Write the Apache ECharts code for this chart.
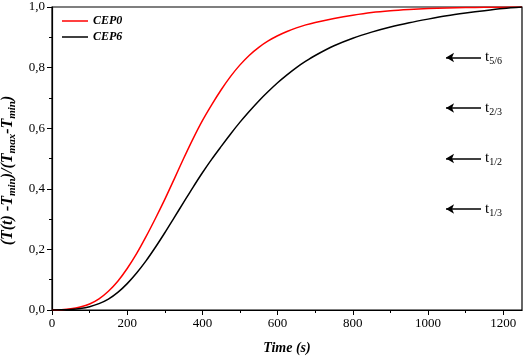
<!DOCTYPE html>
<html>
<head>
<meta charset="utf-8">
<script src="https://cdn.jsdelivr.net/npm/echarts@6/dist/echarts.min.js"></script>
<style>
  html, body { margin: 0; padding: 0; background: #fff; }
  #chart { width: 526px; height: 357px; }
</style>
</head>
<body>
<div id="chart"></div>
<script>
// time axis (s)
const time = [0, 25, 50, 75, 100, 125, 150, 175, 200, 225, 250, 275, 300, 325, 350, 375, 400, 425, 450, 475,
  500, 525, 550, 575, 600, 625, 650, 675, 700, 750, 800, 850, 900, 950, 1000, 1050, 1100, 1150, 1200, 1250];
// normalised temperature
const cep0 = [0, 0.001, 0.004, 0.01, 0.02, 0.037, 0.062, 0.095, 0.137, 0.186, 0.242, 0.302, 0.365, 0.432, 0.5, 0.565, 0.625, 0.678, 0.727, 0.771,
  0.809, 0.841, 0.867, 0.888, 0.905, 0.919, 0.931, 0.941, 0.949, 0.962, 0.973, 0.982, 0.988, 0.992, 0.995, 0.997, 0.998, 0.999, 0.9995, 1.0];
const cep6 = [0, 0.0005, 0.002, 0.005, 0.011, 0.021, 0.036, 0.058, 0.087, 0.122, 0.162, 0.207, 0.255, 0.305, 0.355, 0.405, 0.453, 0.498, 0.54, 0.581,
  0.62, 0.656, 0.69, 0.721, 0.75, 0.776, 0.8, 0.821, 0.84, 0.872, 0.897, 0.917, 0.934, 0.948, 0.96, 0.971, 0.98, 0.988, 0.995, 1.0];
const seriesNames = ["CEP0", "CEP6"];
const xTicks = [0, 200, 400, 600, 800, 1000, 1200];
const xMinorTicks = [100, 300, 500, 700, 900, 1100];
// t fractions marked with arrows
const arrowLevels = [5 / 6, 2 / 3, 1 / 2, 1 / 3];
const arrowSubs = ["5/6", "2/3", "1/2", "1/3"];
const arrowFrom = 1141;
const arrowTo = 1048;

const serif = "'Liberation Serif', 'Times New Roman', serif";
const myChart = echarts.init(document.getElementById("chart"));

let arrows = [];
for (let i = 0; i < arrowLevels.length; i++) {
  arrows.push([
    {
      coord: [arrowFrom, arrowLevels[i]],
      label: { formatter: "{t|t}{s|" + arrowSubs[i] + "}" },
    },
    { coord: [arrowTo, arrowLevels[i]] },
  ]);
}

myChart.setOption({
  animation: false,
  textStyle: { fontFamily: serif },
  grid: {
    left: 52,
    right: 4,
    top: 7,
    bottom: 47,
    containLabel: false,
    outerBoundsMode: "none",
    show: true,
    borderColor: "#000",
    borderWidth: 1.2,
  },
  legend: {
    left: 57,
    top: 10,
    orient: "vertical",
    itemGap: 4,
    itemWidth: 26,
    itemHeight: 1.5,
    icon: "rect",
    data: seriesNames,
    textStyle: {
      fontFamily: serif,
      fontStyle: "italic",
      fontWeight: "bold",
      fontSize: 12,
      color: "#000",
    },
  },
  xAxis: [
    {
      type: "value",
      min: 0,
      max: 1250,
      name: "Time (s)",
      nameLocation: "middle",
      nameGap: 31,
      nameTextStyle: {
        fontFamily: serif,
        fontStyle: "italic",
        fontWeight: "bold",
        fontSize: 14,
        color: "#000",
      },
      axisLine: { show: true, onZero: false, lineStyle: { color: "#000", width: 1.2 } },
      axisTick: { show: true, customValues: xTicks, length: 5, lineStyle: { color: "#000" } },
      axisLabel: {
        customValues: xTicks,
        color: "#000",
        fontSize: 13,
        fontFamily: serif,
        margin: 7,
        formatter: function (v) {
          return String(v);
        },
      },
      splitLine: { show: false },
    },
    {
      // minor ticks
      type: "value",
      position: "bottom",
      min: 0,
      max: 1250,
      axisLine: { show: false },
      axisTick: { show: true, customValues: xMinorTicks, length: 3, lineStyle: { color: "#000" } },
      axisLabel: { show: false },
      splitLine: { show: false },
    },
  ],
  yAxis: {
    type: "value",
    min: 0,
    max: 1,
    interval: 0.2,
    name: "{b|(T(t) -T}{s|min}{b|)/(T}{s|max}{b|-T}{s|min}{b|)}",
    nameLocation: "middle",
    nameGap: 32,
    nameRotate: 90,
    nameTextStyle: {
      padding: [0, 24, 0, 0],
      rich: {
        b: { fontFamily: serif, fontStyle: "italic", fontWeight: "bold", fontSize: 16, color: "#000", lineHeight: 20, verticalAlign: "middle" },
        s: { fontFamily: serif, fontStyle: "italic", fontWeight: "bold", fontSize: 11, color: "#000", lineHeight: 20, verticalAlign: "bottom", padding: [7, 0, 0, 0] },
      },
    },
    axisLine: { show: true, lineStyle: { color: "#000", width: 1.2 } },
    axisTick: { show: true, length: 5, lineStyle: { color: "#000" } },
    minorTick: { show: true, splitNumber: 2, length: 3, lineStyle: { color: "#000" } },
    axisLabel: {
      color: "#000",
      fontSize: 13,
      fontFamily: serif,
      margin: 7,
      formatter: function (v) {
        return v.toFixed(1).replace(".", ",");
      },
    },
    splitLine: { show: false },
  },
  series: [
    {
      name: seriesNames[0],
      type: "line",
      data: time.map((t, i) => [t, cep0[i]]),
      smooth: 0.3,
      showSymbol: false,
      color: "#ff0000",
      lineStyle: { width: 1.5, color: "#ff0000" },
      z: 3,
    },
    {
      name: seriesNames[1],
      type: "line",
      data: time.map((t, i) => [t, cep6[i]]),
      smooth: 0.3,
      showSymbol: false,
      color: "#000",
      lineStyle: { width: 1.5, color: "#000" },
      markLine: {
        silent: true,
        symbol: ["none", "arrow"],
        symbolSize: [7, 8],
        lineStyle: { color: "#000", type: "solid", width: 1.5 },
        label: {
          show: true,
          position: "start",
          distance: 4,
          rich: {
            t: { fontFamily: serif, fontSize: 15, color: "#000", lineHeight: 18, verticalAlign: "middle" },
            s: { fontFamily: serif, fontSize: 10, color: "#000", lineHeight: 18, verticalAlign: "bottom", padding: [8, 0, 0, 0] },
          },
        },
        data: arrows,
      },
    },
  ],
});
</script>
</body>
</html>
